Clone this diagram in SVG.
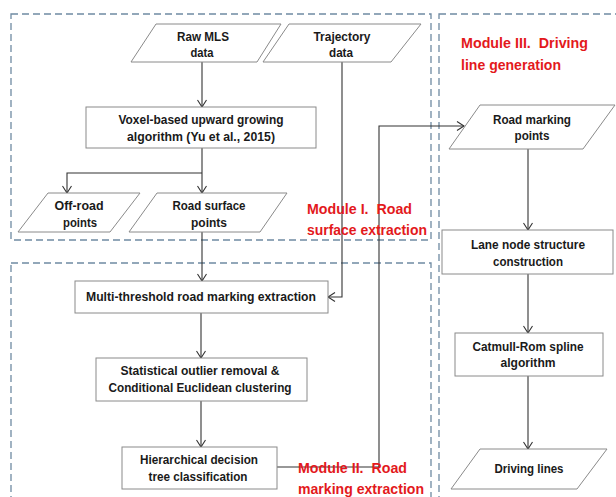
<svg xmlns="http://www.w3.org/2000/svg" width="616" height="497" viewBox="0 0 616 497">
<style>
.mod{fill:none;stroke:#6f8aa2;stroke-width:1.3;stroke-dasharray:7 4}
.box{fill:#fff;stroke:#8a8a8a;stroke-width:1}
.t{font-family:"Liberation Sans",Arial,sans-serif;font-weight:bold;font-size:12.5px;fill:#1a1a1a;text-anchor:middle}
.lbl{font-family:"Liberation Sans",Arial,sans-serif;font-weight:bold;font-size:15px;fill:#e3191c;white-space:pre}
.c{fill:none;stroke:#333;stroke-width:1.1}
</style>
<defs>
<marker id="arr" markerUnits="userSpaceOnUse" markerWidth="12" markerHeight="12" refX="8" refY="5" orient="auto">
<path d="M1,0.5 L8,5 L1,9.5" fill="none" stroke="#333" stroke-width="1.1"/>
</marker>
</defs>
<rect width="616" height="497" fill="#fff"/>
<g id="modules">
<rect class="mod" x="11" y="14" width="420" height="226"/>
<rect class="mod" x="11" y="263" width="420" height="250"/>
<rect class="mod" x="439" y="14" width="190" height="500"/>
</g>
<g id="connectors">
<path class="c" d="M202,62 V107" marker-end="url(#arr)"/>
<path class="c" d="M202,148 V193" marker-end="url(#arr)"/>
<path class="c" d="M202,173 H67 V193" marker-end="url(#arr)"/>
<path class="c" d="M202,232 V281" marker-end="url(#arr)"/>
<path class="c" d="M342,62 V297 H328" marker-end="url(#arr)"/>
<path class="c" d="M201,313 V358" marker-end="url(#arr)"/>
<path class="c" d="M201,401 V447" marker-end="url(#arr)"/>
<path class="c" d="M277,467 H379 V126 H464" marker-end="url(#arr)"/>
<path class="c" d="M528,149 V230" marker-end="url(#arr)"/>
<path class="c" d="M528,274 V333" marker-end="url(#arr)"/>
<path class="c" d="M528,376 V449" marker-end="url(#arr)"/>
</g>
<g id="raw-mls">
<polygon class="box" points="156,24 281,24 257,62 131,62"/>
<text class="t" x="203" y="41" textLength="52" lengthAdjust="spacingAndGlyphs">Raw MLS</text>
<text class="t" x="202" y="57" textLength="23" lengthAdjust="spacingAndGlyphs">data</text>
</g>
<g id="trajectory">
<polygon class="box" points="289,24 421,24 391,62 263,62"/>
<text class="t" x="342" y="41" textLength="57" lengthAdjust="spacingAndGlyphs">Trajectory</text>
<text class="t" x="341" y="57" textLength="24" lengthAdjust="spacingAndGlyphs">data</text>
</g>
<g id="voxel">
<rect class="box" x="86" y="107" width="230" height="41"/>
<text class="t" x="201" y="124" textLength="165" lengthAdjust="spacingAndGlyphs">Voxel-based upward growing</text>
<text class="t" x="201" y="141" textLength="148" lengthAdjust="spacingAndGlyphs">algorithm (Yu et al., 2015)</text>
</g>
<g id="off-road">
<polygon class="box" points="48,193 140,193 110,232 18,232"/>
<text class="t" x="79" y="210" textLength="49" lengthAdjust="spacingAndGlyphs">Off-road</text>
<text class="t" x="80" y="227" textLength="34" lengthAdjust="spacingAndGlyphs">points</text>
</g>
<g id="road-surface">
<polygon class="box" points="157,193 287,193 260,232 129,232"/>
<text class="t" x="209" y="210" textLength="73" lengthAdjust="spacingAndGlyphs">Road surface</text>
<text class="t" x="209" y="227" textLength="36" lengthAdjust="spacingAndGlyphs">points</text>
</g>
<g id="multi-threshold">
<rect class="box" x="75" y="281" width="253" height="32"/>
<text class="t" x="201" y="301" textLength="230" lengthAdjust="spacingAndGlyphs">Multi-threshold road marking extraction</text>
</g>
<g id="statistical">
<rect class="box" x="96" y="358" width="211" height="43"/>
<text class="t" x="200" y="375" textLength="159" lengthAdjust="spacingAndGlyphs">Statistical outlier removal &amp;</text>
<text class="t" x="200" y="392" textLength="183" lengthAdjust="spacingAndGlyphs">Conditional Euclidean clustering</text>
</g>
<g id="hierarchical">
<rect class="box" x="122" y="447" width="155" height="42"/>
<text class="t" x="199" y="464" textLength="118" lengthAdjust="spacingAndGlyphs">Hierarchical decision</text>
<text class="t" x="198" y="481" textLength="99" lengthAdjust="spacingAndGlyphs">tree classification</text>
</g>
<g id="road-marking-points">
<polygon class="box" points="480,105 615,105 583,149 449,149"/>
<text class="t" x="532" y="124" textLength="78" lengthAdjust="spacingAndGlyphs">Road marking</text>
<text class="t" x="532" y="140" textLength="35" lengthAdjust="spacingAndGlyphs">points</text>
</g>
<g id="lane-node">
<rect class="box" x="442" y="230" width="171" height="44"/>
<text class="t" x="528" y="249" textLength="114" lengthAdjust="spacingAndGlyphs">Lane node structure</text>
<text class="t" x="528" y="266" textLength="70" lengthAdjust="spacingAndGlyphs">construction</text>
</g>
<g id="catmull-rom">
<rect class="box" x="455" y="333" width="148" height="43"/>
<text class="t" x="528" y="351" textLength="111" lengthAdjust="spacingAndGlyphs">Catmull-Rom spline</text>
<text class="t" x="528" y="367" textLength="55" lengthAdjust="spacingAndGlyphs">algorithm</text>
</g>
<g id="driving-lines">
<polygon class="box" points="480,449 607,449 577,489 451,489"/>
<text class="t" x="529" y="473" textLength="69" lengthAdjust="spacingAndGlyphs">Driving lines</text>
</g>
<g id="labels">
<text class="lbl" x="307" y="214" textLength="105" lengthAdjust="spacingAndGlyphs" xml:space="preserve">Module I.  Road</text>
<text class="lbl" x="307" y="235" textLength="120" lengthAdjust="spacingAndGlyphs">surface extraction</text>
<text class="lbl" x="298" y="473" textLength="109" lengthAdjust="spacingAndGlyphs" xml:space="preserve">Module II.  Road</text>
<text class="lbl" x="298" y="494" textLength="126" lengthAdjust="spacingAndGlyphs">marking extraction</text>
<text class="lbl" x="461" y="48" textLength="127" lengthAdjust="spacingAndGlyphs" xml:space="preserve">Module III.  Driving</text>
<text class="lbl" x="461" y="70" textLength="100" lengthAdjust="spacingAndGlyphs">line generation</text>
</g>
</svg>
